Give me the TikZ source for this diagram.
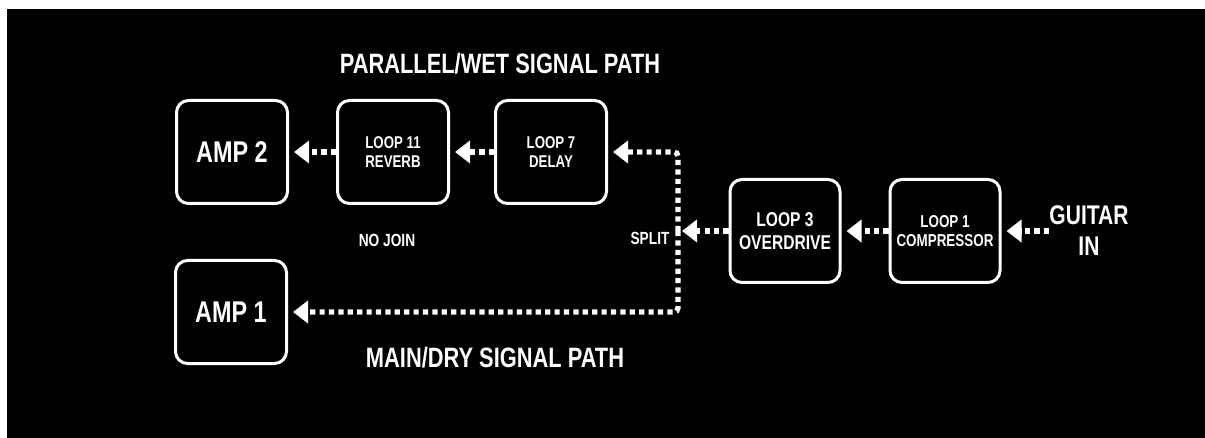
\documentclass[tikz,border=0pt]{standalone}
\usepackage{fontspec}
\newfontfamily\cond{Liberation Sans}[FakeStretch=0.78]
\usetikzlibrary{arrows.meta}

\newcommand{\cf}[2]{\cond\bfseries\fontsize{#1}{#2}\selectfont}

\tikzset{
  pedal/.style={draw=white, line width=1.5pt, rounded corners=6pt, minimum width=55.5pt,
    minimum height=51.5pt, align=center, text=white, inner sep=0pt},
  sig/.style={draw=white, line width=2.6pt, dash pattern=on 2.6pt off 2.1pt,
    -{Triangle[length=7.5pt,width=11pt]}, shorten >=2.5pt},
  lbl/.style={text=white, inner sep=0pt},
}

\begin{document}
\begin{tikzpicture}[x=0.5pt,y=-0.5pt]
\def\ytop{152};
\def\ymid{231};
\def\ybot{312};
\def\xsplit{678};

% background
\fill[white] (0,0) rectangle (1205,438);
\fill[black] (7,9) rectangle (1205,438);
\useasboundingbox (0,0) rectangle (1205,438);

% wet path boxes
\node[pedal, font=\cf{15}{17}] (amptwo) at (232,\ytop) {AMP 2};
\node[pedal, font=\cf{8.5}{9.7}] (loopeleven) at (393,\ytop) {LOOP 11\\REVERB};
\node[pedal, font=\cf{8.5}{9.7}] (loopseven) at (551,\ytop) {LOOP 7\\DELAY};

% dry path boxes
\node[pedal, minimum width=55pt, font=\cf{10}{11.5}] (loopthree) at (785,\ymid) {LOOP 3\\OVERDRIVE};
\node[pedal, minimum width=55pt, font=\cf{8.6}{9.7}] (loopone) at (945,\ymid) {LOOP 1\\COMPRESSOR};
\node[pedal, font=\cf{15}{17}] (ampone) at (231,\ybot) {AMP 1};

\node[lbl, align=center, font=\cf{13.5}{15.5}] (guitar) at (1089,\ymid) {GUITAR\\IN};
\coordinate (split) at (\xsplit,\ymid);

% titles and notes
\node[lbl, font=\cf{14}{15}] (wettitle) at (500,64) {PARALLEL/WET SIGNAL PATH};
\node[lbl, font=\cf{14}{15}] (drytitle) at (495,358) {MAIN/DRY SIGNAL PATH};
\node[lbl, font=\cf{8.8}{10}] (nojoin) at (387,240) {NO JOIN};
\node[lbl, font=\cf{8.8}{10}] (splitlbl) at (650,238) {SPLIT};

% signal flow
\draw[sig] (guitar) -- (loopone);
\draw[sig] (loopone) -- (loopthree);
\draw[sig, shorten >=0pt] (loopthree) -- ([xshift=2pt]split);
\draw[sig, rounded corners=2pt] (split) |- (loopseven);
\draw[sig, rounded corners=2pt] (split) |- (ampone);
\draw[sig] (loopseven) -- (loopeleven);
\draw[sig] (loopeleven) -- (amptwo);

\end{tikzpicture}
\end{document}
